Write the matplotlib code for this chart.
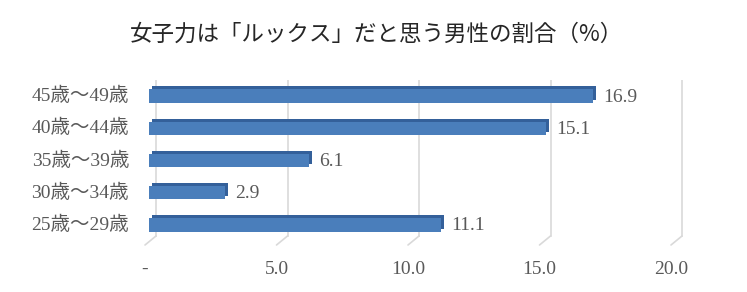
import matplotlib
matplotlib.use("Agg")
import matplotlib.pyplot as plt
from matplotlib.transforms import ScaledTranslation, blended_transform_factory

# data #

categories = ["25歳～29歳", "30歳～34歳", "35歳～39歳", "40歳～44歳", "45歳～49歳"]
values = [11.1, 2.9, 6.1, 15.1, 16.9]
ticks = [0, 5, 10, 15, 20]
tick_labels = ["-", "5.0", "10.0", "15.0", "20.0"]
title = "女子力は「ルックス」だと思う男性の割合（%）"

serif = ["Liberation Serif", "Noto Sans CJK JP"]
gray = "#595959"

# figure #

W, H, DPI = 747, 292, 100
fig = plt.figure(figsize=(W / DPI, H / DPI), dpi=DPI)
x0, x1 = 149, 701
ytop, ybot = 80, 241
ax = fig.add_axes([x0 / W, 1 - ybot / H, (x1 - x0) / W, (ybot - ytop) / H])
ax.set_xlim(0, (x1 - x0) / 26.3)
ax.set_ylim(-0.5, len(categories) - 0.5)
ax.axis("off")

def px(dx, dy):
    return ScaledTranslation(dx / DPI, dy / DPI, fig.dpi_scale_trans)

# back wall gridlines with a little floor #
ax_x = blended_transform_factory(ax.transData, ax.transAxes)
for t in ticks:
    ax.plot([t, t], [1, 0], color="#D9D9D9", lw=1.2, transform=ax_x + px(7, 5), zorder=0)
    ax.annotate("", xy=(t, 0), xycoords=ax_x + px(-4, -4),
                xytext=(t, 0), textcoords=ax_x + px(7, 5),
                arrowprops=dict(arrowstyle="-", color="#D9D9D9", lw=1.2,
                                shrinkA=0, shrinkB=0))

# bars (extruded look) #
pos = range(len(categories))
ax.barh(pos, values, height=0.42, color="#34609A", transform=ax.transData + px(3, 3), zorder=2)
ax.barh(pos, values, height=0.42, color="#4A7EBB", zorder=3)

for y, v in zip(pos, values):
    ax.text(v, y, f"{v:.1f}", transform=ax.transData + px(10, -1), va="center", ha="left",
            fontsize=14, color=gray, family=serif)

for y, c in zip(pos, categories):
    ax.text(0, y, c, transform=ax.transData + px(-20, 0), va="center", ha="right",
            fontsize=14, color=gray, family=serif)

for t, lab in zip(ticks, tick_labels):
    ax.text(t, 0, lab, transform=ax_x + px(-4, -28), va="center", ha="center",
            fontsize=14, color=gray, family=serif)

fig.text(376 / W, 1 - 34 / H, title, ha="center", va="center", fontsize=16.2,
         color="#262626", family=["Noto Sans CJK JP", "DejaVu Sans"])

fig.savefig("out.png", dpi=DPI)
